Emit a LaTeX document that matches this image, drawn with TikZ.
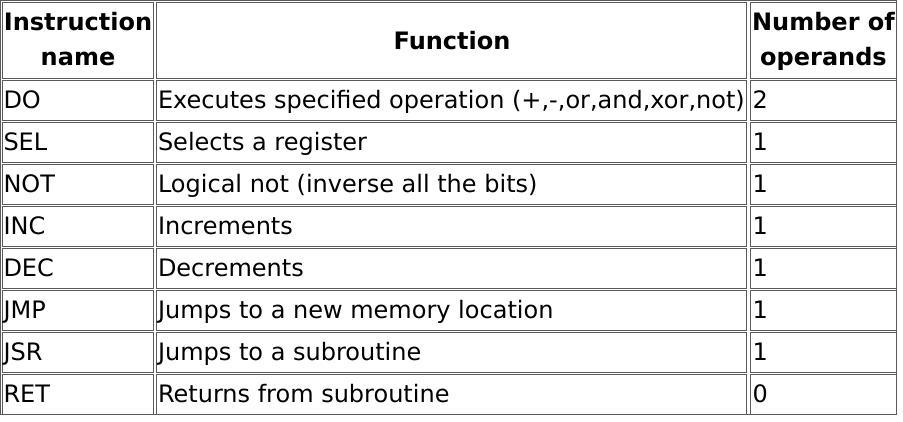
\documentclass[tikz,border=0pt]{standalone}
\usepackage{fontspec}
\setmainfont{DejaVu Sans}
\definecolor{bordergray}{HTML}{5A5A5A}
\tikzset{
  cellbox/.style={draw=bordergray, line width=1bp, inner sep=0pt, outer sep=0pt, anchor=north west},
  celltext/.style={inner sep=0pt, outer sep=0pt, anchor=base west, font=\fontsize{24bp}{28bp}\selectfont},
  headtext/.style={inner sep=0pt, outer sep=0pt, anchor=base, font=\fontsize{24bp}{28bp}\selectfont\bfseries},
}
\newcommand{\mycell}[5]{%
  \node[cellbox, minimum width={#4-#2}, minimum height={#5-#3}] (#1) at ({#2+0.5},{#3+0.5}) {};}
\begin{document}
\begin{tikzpicture}[x=1bp,y=-1bp]
\useasboundingbox (0,0) rectangle (903,421);
\node[cellbox, minimum width=899, minimum height=416] (outer) at (0.5,0.5) {};
% header
\mycell{h1}{2}{2}{154}{78}
\mycell{h2}{156}{2}{748}{78}
\mycell{h3}{750}{2}{897}{78}
\node[headtext] (h1a) at (78,30) {Instruction};
\node[headtext] (h1b) at (78,65) {name};
\node[headtext] (h2a) at (452,49) {Function};
\node[headtext] (h3a) at (823.5,30) {Number of};
\node[headtext] (h3b) at (823.5,65) {operands};
% rows
\foreach \i/\a/\b/\c in {0/DO/{Executes specified operation (+,-,or,and,xor,not)}/2,
  1/SEL/Selects a register/1,
  2/NOT/Logical not (inverse all the bits)/1,
  3/INC/Increments/1,
  4/DEC/Decrements/1,
  5/JMP/Jumps to a new memory location/1,
  6/JSR/Jumps to a subroutine/1,
  7/RET/Returns from subroutine/0}{
  \pgfmathsetmacro{\t}{80+42*\i}
  \pgfmathsetmacro{\bt}{120+42*\i}
  \mycell{r\i a}{2}{\t}{154}{\bt}
  \mycell{r\i b}{156}{\t}{748}{\bt}
  \mycell{r\i c}{750}{\t}{897}{\bt}
  \node[celltext] (t\i a) at (3.5,\t+28) {\a};
  \node[celltext] (t\i b) at (158,\t+28) {\b};
  \node[celltext] (t\i c) at (752.5,\t+28) {\c};
}
\end{tikzpicture}
\end{document}
